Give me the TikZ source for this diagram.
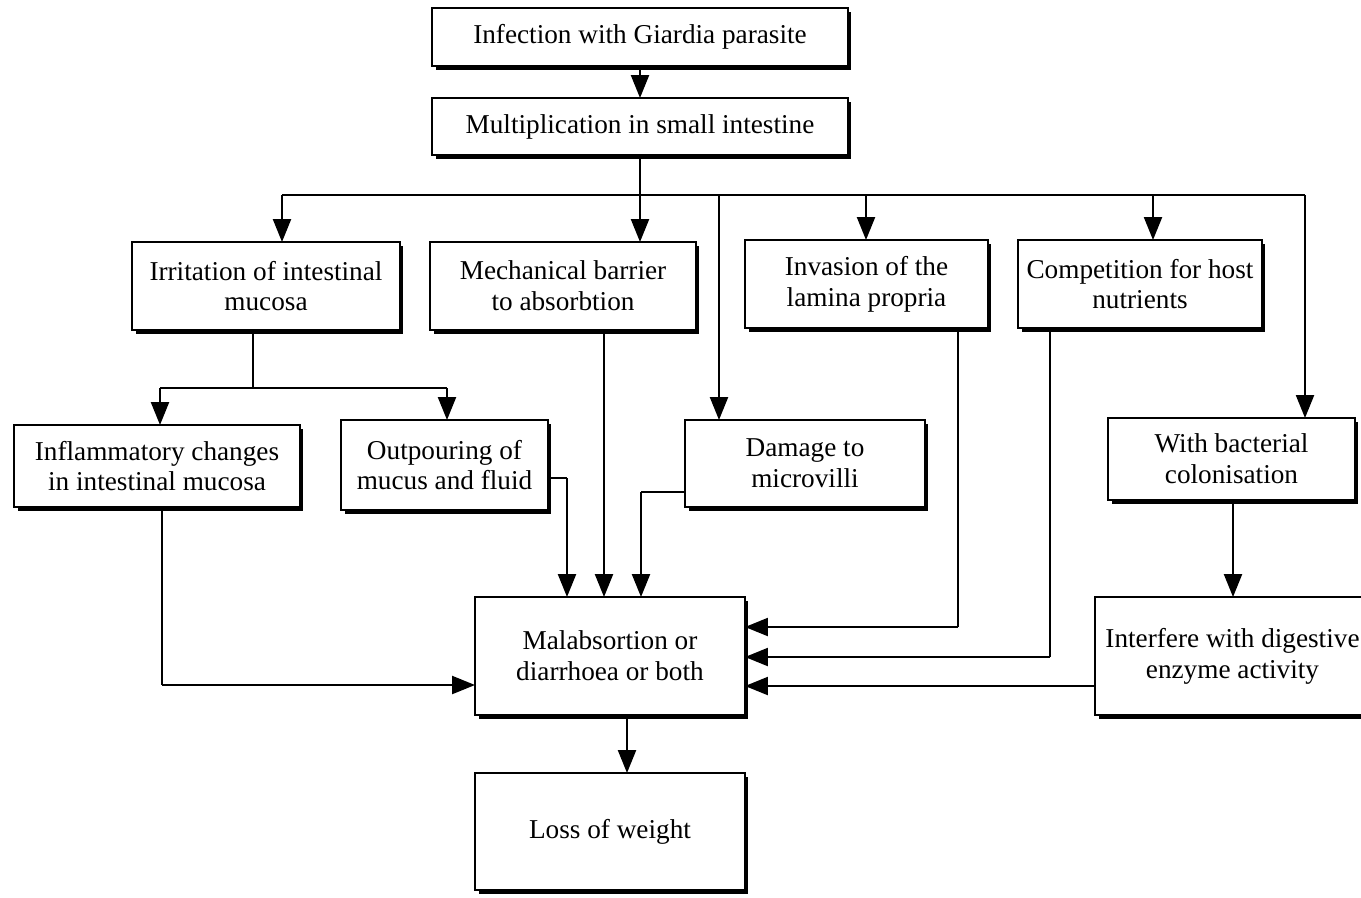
\documentclass[tikz,border=0pt]{standalone}
\usepackage{fontspec}
\setmainfont{Liberation Serif}
\usetikzlibrary{arrows.meta,shadows}
\begin{document}
\begin{tikzpicture}[x=0.02cm,y=-0.02cm,
  box/.style={draw, fill=white, line width=1.4pt, inner sep=0pt, outer sep=0pt,
    align=center, font=\fontsize{15.5}{17.5}\selectfont,
    drop shadow={shadow xshift=0.07cm, shadow yshift=-0.07cm, fill=black, opacity=1}},
  conn/.style={line width=1.3pt},
  arr/.style={conn, -{Triangle[length=0.46cm,width=0.36cm]}}]
\useasboundingbox (0,0) rectangle (1361,897);
\fill[white] (0,0) rectangle (1361,897);
\node[box, minimum width=8.32cm, minimum height=1.16cm] (inf) at (640,37) {Infection with Giardia parasite};
\node[box, minimum width=8.32cm, minimum height=1.14cm] (mul) at (640,126.5) {Multiplication in small intestine};
\node[box, minimum width=5.36cm, minimum height=1.76cm] (irr) at (266,286) {Irritation of intestinal\\mucosa};
\node[box, minimum width=5.32cm, minimum height=1.76cm] (mech) at (563,286) {Mechanical barrier\\to absorbtion};
\node[box, minimum width=4.86cm, minimum height=1.76cm] (inv) at (866.5,284) {Invasion of the\\lamina propria};
\node[box, minimum width=4.88cm, minimum height=1.76cm] (comp) at (1140,284) {Competition for host\\nutrients};
\node[box, minimum width=5.72cm, minimum height=1.64cm] (infl) at (157,466) {Inflammatory changes\\in intestinal mucosa};
\node[box, minimum width=4.14cm, minimum height=1.8cm] (outp) at (444.5,465) {Outpouring of\\mucus and fluid};
\node[box, minimum width=4.8cm, minimum height=1.74cm] (dam) at (805,463.5) {Damage to\\microvilli};
\node[box, minimum width=4.94cm, minimum height=1.64cm] (bact) at (1231.5,459) {With bacterial\\colonisation};
\node[box, minimum width=5.4cm, minimum height=2.36cm] (mal) at (610,656) {Malabsortion or\\diarrhoea or both};
\node[box, minimum width=5.5cm, minimum height=2.36cm] (intf) at (1232.5,656) {Interfere with digestive\\enzyme activity};
\node[box, minimum width=5.4cm, minimum height=2.34cm] (loss) at (610,831.5) {Loss of weight};

% bus
\coordinate (b1) at (282,195);
\coordinate (b2) at (640,195);
\coordinate (b3) at (719,195);
\coordinate (b4) at (866,195);
\coordinate (b5) at (1153,195);
\coordinate (b6) at (1305,195);
\draw[arr] (inf.south) -- (mul.north);
\draw[conn] (b2 |- mul.south) -- (b2);
\draw[conn] (b1) -- (b6);
\draw[arr] (b1) -- (b1 |- irr.north);
\draw[arr] (b2) -- (b2 |- mech.north);
\draw[arr] (b3) -- (b3 |- dam.north);
\draw[arr] (b4) -- (b4 |- inv.north);
\draw[arr] (b5) -- (b5 |- comp.north);
\draw[arr] (b6) -- (b6 |- bact.north);

% irritation split
\coordinate (i0) at (253,388);
\coordinate (iL) at (160,388);
\coordinate (iR) at (447,388);
\draw[conn] (i0 |- irr.south) -- (i0);
\draw[conn] (iL) -- (iR);
\draw[arr] (iL) -- (iL |- infl.north);
\draw[arr] (iR) -- (iR |- outp.north);

% into malabsorption top
\coordinate (m1) at (567,478);
\coordinate (m2) at (604,478);
\coordinate (m3) at (641,492);
\draw[conn] (outp.east |- m1) -- (m1);
\draw[arr] (m1) -- (m1 |- mal.north);
\draw[arr] (m2 |- mech.south) -- (m2 |- mal.north);
\draw[conn] (dam.west |- m3) -- (m3);
\draw[arr] (m3) -- (m3 |- mal.north);

% into malabsorption left
\coordinate (l1) at (162,685);
\draw[conn] (l1 |- infl.south) -- (l1);
\draw[arr] (l1) -- (mal.west |- l1);

% into malabsorption right
\coordinate (r1) at (958,627);
\coordinate (r2) at (1050,657);
\coordinate (r3) at (1095,686);
\draw[conn] (r1 |- inv.south) -- (r1);
\draw[arr] (r1) -- (mal.east |- r1);
\draw[conn] (r2 |- comp.south) -- (r2);
\draw[arr] (r2) -- (mal.east |- r2);
\draw[arr] (intf.west |- r3) -- (mal.east |- r3);

% bacterial -> interfere
\coordinate (c1) at (1233,500);
\draw[arr] (c1 |- bact.south) -- (c1 |- intf.north);

% mal -> loss
\coordinate (d1) at (627,715);
\draw[arr] (d1 |- mal.south) -- (d1 |- loss.north);
\end{tikzpicture}
\end{document}
